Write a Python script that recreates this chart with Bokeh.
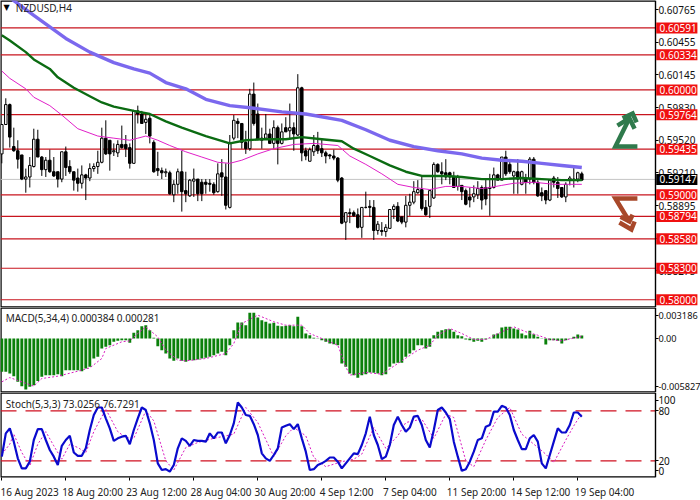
from bokeh.embed import file_html
from bokeh.resources import INLINE
from bokeh.plotting import figure
from bokeh.layouts import column
from bokeh.models import Range1d, FixedTicker, Label, LinearAxis, ColumnDataSource

# ---- data: quotes in pips (1e-4) ----
open_ = [5939,5967,5986,5946,5942,5938,5915,5917,5927,5953,5936,5924,5933,5922,5922,5915,5941,5927,5922,5916,5911,5919,5916,5925,5927,5931,5954,5952,5941,5940,5948,5948,5945,5930,5980,5977,5969,5973,5950,5925,5923,5921,5921,5900,5910,5922,5904,5899,5913,5915,5912,5912,5911,5910,5903,5921,5917,5888,
5954,5970,5968,5950,5944,5996,5977,5952,5954,5958,5949,5964,5949,5964,5961,5964,5957,6002,5942,5932,5941,5947,5944,5940,5938,5937,5935,5916,5874,5883,5883,5881,5869,5888,5889,5888,5866,5866,5865,5868,5886,5889,5879,5874,5890,5893,5902,5905,5888,5889,5897,5929,5922,5921,5921,5917,5908,
5909,5904,5898,5898,5900,5907,5907,5906,5907,5919,5914,5936,5929,5918,5922,5910,5916,5915,5934,5912,5902,5904,5895,5916,5912,5907,5898,5914,5914,5915,5920]
high = [5967,5992,5987,5964,5952,5938,5925,5936,5963,5962,5937,5936,5943,5936,5922,5941,5946,5933,5922,5925,5928,5920,5930,5930,5942,5964,5971,5952,5949,5952,5966,5957,5949,5981,5985,5980,5977,5977,5952,5941,5926,5925,5923,5914,5925,5942,5922,5915,5925,5915,5915,5915,5915,5912,5930,5934,5930,5957,
5976,5973,5968,5961,6001,6007,5987,5964,5977,5963,5971,5966,5968,5974,5987,5969,6015,6003,5945,5945,5957,5960,5953,5942,5939,5943,5936,5917,5883,5887,5885,5887,5888,5903,5895,5895,5875,5874,5872,5886,5891,5893,5879,5899,5901,5913,5914,5917,5895,5904,5931,5930,5931,5934,5922,5922,5919,
5909,5906,5907,5909,5913,5909,5916,5920,5926,5920,5936,5942,5934,5923,5934,5923,5920,5936,5936,5914,5907,5904,5915,5918,5917,5907,5912,5918,5926,5922,5922]
low = [5930,5967,5945,5941,5925,5914,5902,5907,5926,5936,5918,5917,5921,5917,5907,5912,5918,5920,5904,5903,5906,5895,5913,5922,5920,5930,5938,5923,5937,5936,5944,5936,5925,5930,5968,5968,5958,5949,5921,5918,5915,5917,5900,5893,5901,5884,5893,5898,5898,5894,5894,5901,5903,5900,5902,5899,5886,5887,
5952,5954,5944,5939,5942,5966,5952,5944,5953,5949,5944,5929,5948,5960,5954,5942,5956,5932,5933,5932,5937,5939,5936,5930,5934,5933,5912,5872,5857,5873,5879,5868,5859,5887,5879,5857,5862,5861,5860,5868,5877,5874,5872,5869,5880,5891,5901,5885,5880,5878,5896,5921,5910,5914,5910,5907,5904,
5895,5890,5888,5893,5896,5886,5890,5880,5906,5914,5914,5918,5920,5901,5901,5909,5901,5910,5910,5898,5894,5891,5894,5907,5897,5897,5893,5909,5907,5912,5914]
close = [5967,5986,5955,5942,5934,5915,5917,5928,5953,5936,5924,5933,5922,5918,5915,5941,5926,5922,5914,5911,5919,5916,5925,5927,5931,5954,5939,5939,5942,5948,5945,5944,5930,5980,5977,5968,5972,5956,5922,5923,5921,5922,5901,5910,5922,5903,5901,5914,5915,5901,5901,5910,5910,5902,5920,5917,5890,5949,
5971,5968,5950,5944,5996,5968,5953,5954,5958,5949,5964,5949,5960,5960,5964,5958,6002,5940,5937,5943,5947,5942,5940,5937,5937,5935,5914,5873,5883,5882,5880,5869,5888,5888,5888,5866,5872,5865,5869,5886,5889,5875,5874,5890,5893,5903,5905,5887,5881,5904,5929,5922,5920,5917,5917,5907,5917,
5903,5891,5895,5901,5906,5895,5896,5907,5919,5914,5936,5920,5922,5922,5915,5922,5912,5934,5912,5899,5899,5895,5914,5912,5906,5898,5910,5916,5915,5921,5914]

ma_slow_bar = [0,3,8,12,16,22,28,33,37,41,46,51,57,62,70,76,85,91,97,103,109,115,120,125,130,135,140,145]
ma_slow = [6096,6085,6071,6060,6049,6036,6026,6020,6016,6007,6001,5991,5985,5983,5979,5977,5971,5962,5952,5946,5942,5939,5935,5933,5932,5930,5928,5926]
ma_mid_bar = [0,2,6,8,12,14,18,22,25,28,33,37,41,45,51,57,61,65,71,75,80,85,88,92,97,101,105,111,115,120,125,130,135,140,145]
ma_mid = [6052,6047,6036,6029,6020,6012,6002,5994,5988,5984,5980,5977,5970,5964,5956,5949,5952,5953,5953,5955,5953,5951,5944,5937,5928,5922,5918,5918,5917,5915,5915,5916,5915,5914,5914]
ma_fast_bar = [0,2,6,8,12,15,19,24,28,32,34,36,39,42,46,50,54,57,60,64,68,73,78,84,87,91,95,99,103,107,111,115,120,122,125,128,133,138,141,145]
ma_fast = [6018,6011,6001,5993,5985,5976,5963,5956,5954,5952,5954,5956,5952,5947,5941,5936,5931,5930,5933,5939,5944,5948,5949,5947,5937,5929,5920,5910,5907,5905,5908,5908,5906,5907,5909,5911,5912,5910,5910,5910]

levels = [0.60591,0.60334,0.60000,0.59764,0.59435,0.59000,0.58794,0.58580,0.58300,0.58000]
last_price = 0.59147
price_ticks = [0.60765,0.60455,0.60145,0.59830,0.59520,0.59210,0.58895,0.58585,0.58275]

macd_hist = [-413,-413,-434,-467,-537,-591,-632,-599,-578,-525,-475,-454,-454,-454,-442,-467,-392,-392,-392,-392,-405,-372,-351,-248,-227,-124,-103,-83,-41,-29,-21,-21,-54,70,103,153,165,103,8,-95,-145,-186,-248,-277,-248,-277,-289,-268,-268,-260,-248,-240,-227,-207,-186,-165,-207,-83,103,198,198,165,318,318,260,227,207,186,194,157,153,157,165,153,268,153,62,41,8,-4,-21,-41,-62,-70,-83,-310,-351,-434,-454,-487,-454,-442,-421,-425,-434,-454,-442,-351,-310,-301,-301,-227,-186,-145,-83,-83,-124,-103,41,83,103,116,116,83,41,29,-12,-21,-41,-29,-41,-12,-4,50,62,136,145,145,124,112,62,41,95,54,21,-4,-74,-21,-21,-29,-62,-21,-4,21,50,38]
macd_sig_bar = [0,2,8,10,14,19,22,25,26,30,32,34,36,39,41,44,46,51,56,58,60,64,68,71,75,77,81,84,86,87,91,95,99,104,107,109,112,115,118,121,125,128,131,134,137,140,145]
macd_sig = [-537,-484,-590,-496,-467,-405,-364,-248,-124,-41,-29,62,145,20,-145,-268,-277,-248,-186,-62,186,289,207,165,165,62,-21,-83,-351,-454,-421,-442,-310,-145,-83,41,124,62,-12,-12,83,145,83,41,-12,-29,28]
macd_ticks = [0.00289,0.0,-0.0059]
macd_tick_labels = ["0.003186","0.00","-0.005827"]

stoch_k = [25,53,59,43,23,11,11,19,45,58,58,45,33,25,15,38,45,50,30,26,26,35,57,75,84,84,71,59,44,47,49,50,40,57,71,84,81,65,45,17,9,10,7,15,35,47,44,38,45,44,44,43,53,47,54,54,41,51,65,90,84,75,74,64,51,29,23,20,27,35,60,62,64,58,64,47,31,9,10,15,17,20,24,24,19,11,17,23,29,28,39,53,73,51,39,22,25,39,63,73,63,55,60,73,74,63,45,36,57,81,84,78,70,43,25,8,10,19,31,45,47,61,63,79,79,86,84,75,57,45,34,34,47,51,43,17,11,27,43,59,54,54,63,78,78,73]
stoch_d_bar = [0,2,3,5,7,9,11,13,15,17,19,21,23,26,29,31,33,36,38,41,43,46,49,53,56,58,61,64,68,71,73,76,78,81,85,88,90,93,96,99,101,105,108,111,113,116,118,121,124,127,130,133,136,138,141,143,145]
stoch_d = [28,40,52,30,14,40,55,38,22,40,36,30,55,82,55,48,47,80,68,20,9,36,42,47,50,52,84,66,25,50,60,50,24,13,19,22,28,60,35,50,66,70,47,76,72,20,13,45,72,84,52,40,28,18,45,62,77]
stoch_levels = [80,20]
stoch_ticks = [93,80,20,8]
stoch_tick_labels = ["100","80","20","0"]

x_tick_bars = [0,16,32,48,64,80,96,112,128,144]
x_label_bars = [6.55,22.7,38.7,54.8,70.8,86.2,102,118.7,134.7,150.7]
x_tick_labels = ["16 Aug 2023","18 Aug 20:00","23 Aug 12:00","28 Aug 04:00","30 Aug 20:00","4 Sep 12:00","7 Sep 04:00","11 Sep 20:00","14 Sep 12:00","19 Sep 04:00"]

# decorative arrows, in chart units (bar, pips)
up_arrow = [([158.9,153.4,156.9],[5946,5946,5973]),([153.9,156.9,158.2],[5966,5973,5963]),([155.2,157.7,158.7],[5973,5977.5,5969])]
down_arrow = [([158.9,153.4,156.9],[5896.5,5896.5,5874.6]),([154.7,156.9,157.7],[5879,5874.6,5881]),([154.4,157.4,158.2],[5873.6,5867,5874.6])]

FONT = "Noto Sans"
FS = "10px"
X0 = -0.325     # left edge of the panes
AX = 163.4      # bar position of the price axis
X1 = 174.675    # right edge of the page
TAG_L = 163.6   # left edge of the price tags
TAG_R = 173.9   # right edge of the price tags
TAG_T = 164.45  # where the tag text starts
TAG_H = 0.00105 # height of a tag, in price


def pane(h, fh, yr, bottom=0, fs=FS):
    f = figure(width=700, height=h, frame_width=700, frame_height=fh,
               x_range=Range1d(X0, X1), y_range=Range1d(*yr),
               output_backend="svg", toolbar_location=None,
               y_axis_location="right", x_axis_location="below" if bottom else None,
               min_border_left=0, min_border_right=0, min_border_top=0, min_border_bottom=bottom,
               background_fill_color="white", border_fill_color="white")
    f.grid.visible = False
    f.outline_line_color = None
    ax = f.yaxis[0]
    ax.fixed_location = AX
    ax.axis_line_color = "black"
    ax.axis_line_width = 1.4
    ax.major_tick_out = 3
    ax.major_tick_in = 0
    ax.minor_tick_out = 0
    ax.minor_tick_in = 0
    ax.major_tick_line_color = "black"
    ax.major_label_standoff = 0
    ax.major_label_text_font = FONT
    ax.major_label_text_font_size = fs
    ax.major_label_text_color = "#111111"
    # pane border: left, top and bottom edges, stopping at the axis
    f.line([AX, X0, X0, AX], [yr[1], yr[1], yr[0], yr[0]], line_color="black", line_width=2.4)
    return f


def px(v):
    return [a / 1e4 for a in v]


def hlines(f, ys, **kw):
    for y in ys:
        f.line([X0, AX], [y, y], **kw)


# ---- main pane ----
p = pane(309, 307, (0.57926, 0.60852))
p.yaxis[0].ticker = FixedTicker(ticks=price_ticks)
p.yaxis[0].major_label_overrides = {t: f"{t:.5f}" for t in price_ticks}

hlines(p, [last_price], line_color="#C4C4C4", line_width=1)
hlines(p, levels, line_color="#C8141E", line_width=1.2)

n = len(open_)
bars = list(range(n))
src = ColumnDataSource(dict(x=bars, o=px(open_), h=px(high), l=px(low), c=px(close),
                            top=[max(a, b) / 1e4 for a, b in zip(open_, close)],
                            bot=[min(a, b) / 1e4 for a, b in zip(open_, close)],
                            fill=["white" if c >= o else "black" for o, c in zip(open_, close)]))
p.segment("x", "h", "x", "l", source=src, line_color="black", line_width=1)
p.vbar("x", 0.62, "top", "bot", source=src, fill_color="fill", line_color="black", line_width=1)

p.line(ma_fast_bar, px(ma_fast), line_color="#E020C8", line_width=1)
p.line(ma_mid_bar, px(ma_mid), line_color="#0B6B12", line_width=2.4)
p.line(ma_slow_bar, px(ma_slow), line_color="#7B68EE", line_width=3.4)

for xs, ys in up_arrow:
    p.line(xs, px(ys), line_color="#2F7A4C", line_width=4.5, line_join="miter")
for xs, ys in down_arrow:
    p.line(xs, px(ys), line_color="#A8482A", line_width=4.5, line_join="miter")

for v, bg in [(l, "#F01010") for l in levels] + [(last_price, "black")]:
    p.hbar(y=[v], height=TAG_H, left=TAG_L, right=TAG_R, fill_color=bg, line_color=None, level="annotation")
    p.add_layout(Label(x=TAG_T, y=v, text=f"{v:.5f}", text_color="white",
                       text_font=FONT, text_font_size=FS, text_baseline="middle"))
p.add_layout(Label(x=0.4, y=0.60782, text="\u25BC", text_font="DejaVu Sans", text_font_size="8px",
                   text_baseline="middle", text_color="black"))
p.add_layout(Label(x=3.5, y=0.60782, text="NZDUSD,H4", text_font=FONT, text_font_size=FS,
                   text_baseline="middle", text_color="#222222"))

# ---- MACD pane ----
m = pane(87, 85, (-0.00669, 0.00384), fs="9.2px")
m.yaxis[0].ticker = FixedTicker(ticks=macd_ticks)
m.yaxis[0].major_label_overrides = dict(zip(macd_ticks, macd_tick_labels))
m.vbar(bars, 0.72, [v / 1e5 for v in macd_hist], 0, fill_color="#0A800A", line_color=None)
m.line(macd_sig_bar, [v / 1e5 for v in macd_sig], line_color="#D81CC0", line_width=1, line_dash=[2, 2])
m.add_layout(Label(x=1.0, y=0.00248, text="MACD(5,34,4) 0.000384 0.000281", text_font=FONT,
                   text_font_size=FS, text_baseline="middle", text_color="#222222"))

# ---- Stochastic pane ----
s = pane(104, 85, (0, 102), bottom=19)
s.yaxis[0].ticker = FixedTicker(ticks=stoch_ticks)
s.yaxis[0].major_label_overrides = dict(zip(stoch_ticks, stoch_tick_labels))
hlines(s, stoch_levels, line_color="#D01020", line_width=1.2, line_dash=[16, 9])
s.line(stoch_d_bar, stoch_d, line_color="#D81CC0", line_width=1, line_dash=[2, 2])
s.line(bars, stoch_k, line_color="#0A0ACD", line_width=2.2)
s.add_layout(Label(x=1.0, y=88, text="Stoch(5,3,3) 73.0256 76.7291", text_font=FONT,
                   text_font_size=FS, text_baseline="middle", text_color="#222222"))
xa = s.xaxis[0]
xa.ticker = FixedTicker(ticks=x_tick_bars)
xa.major_label_text_color = None
xa.major_label_text_font_size = "1px"
xa.major_label_standoff = 0
xa.major_tick_out = 3
xa.major_tick_in = 0
xa.minor_tick_out = 0
xa.minor_tick_in = 0
xa.axis_line_color = None
xb = LinearAxis(ticker=FixedTicker(ticks=x_label_bars),
                major_label_overrides=dict(zip(x_label_bars, x_tick_labels)),
                axis_line_color=None, major_tick_line_color=None, minor_tick_line_color=None,
                major_tick_out=0, major_tick_in=0, minor_tick_out=0, minor_tick_in=0,
                major_label_standoff=4, major_label_text_font=FONT, major_label_text_font_size=FS,
                major_label_text_color="#222222")
s.add_layout(xb, "below")

page = column(p, m, s, spacing=0)
open("out.html", "w").write(file_html(page, INLINE))
